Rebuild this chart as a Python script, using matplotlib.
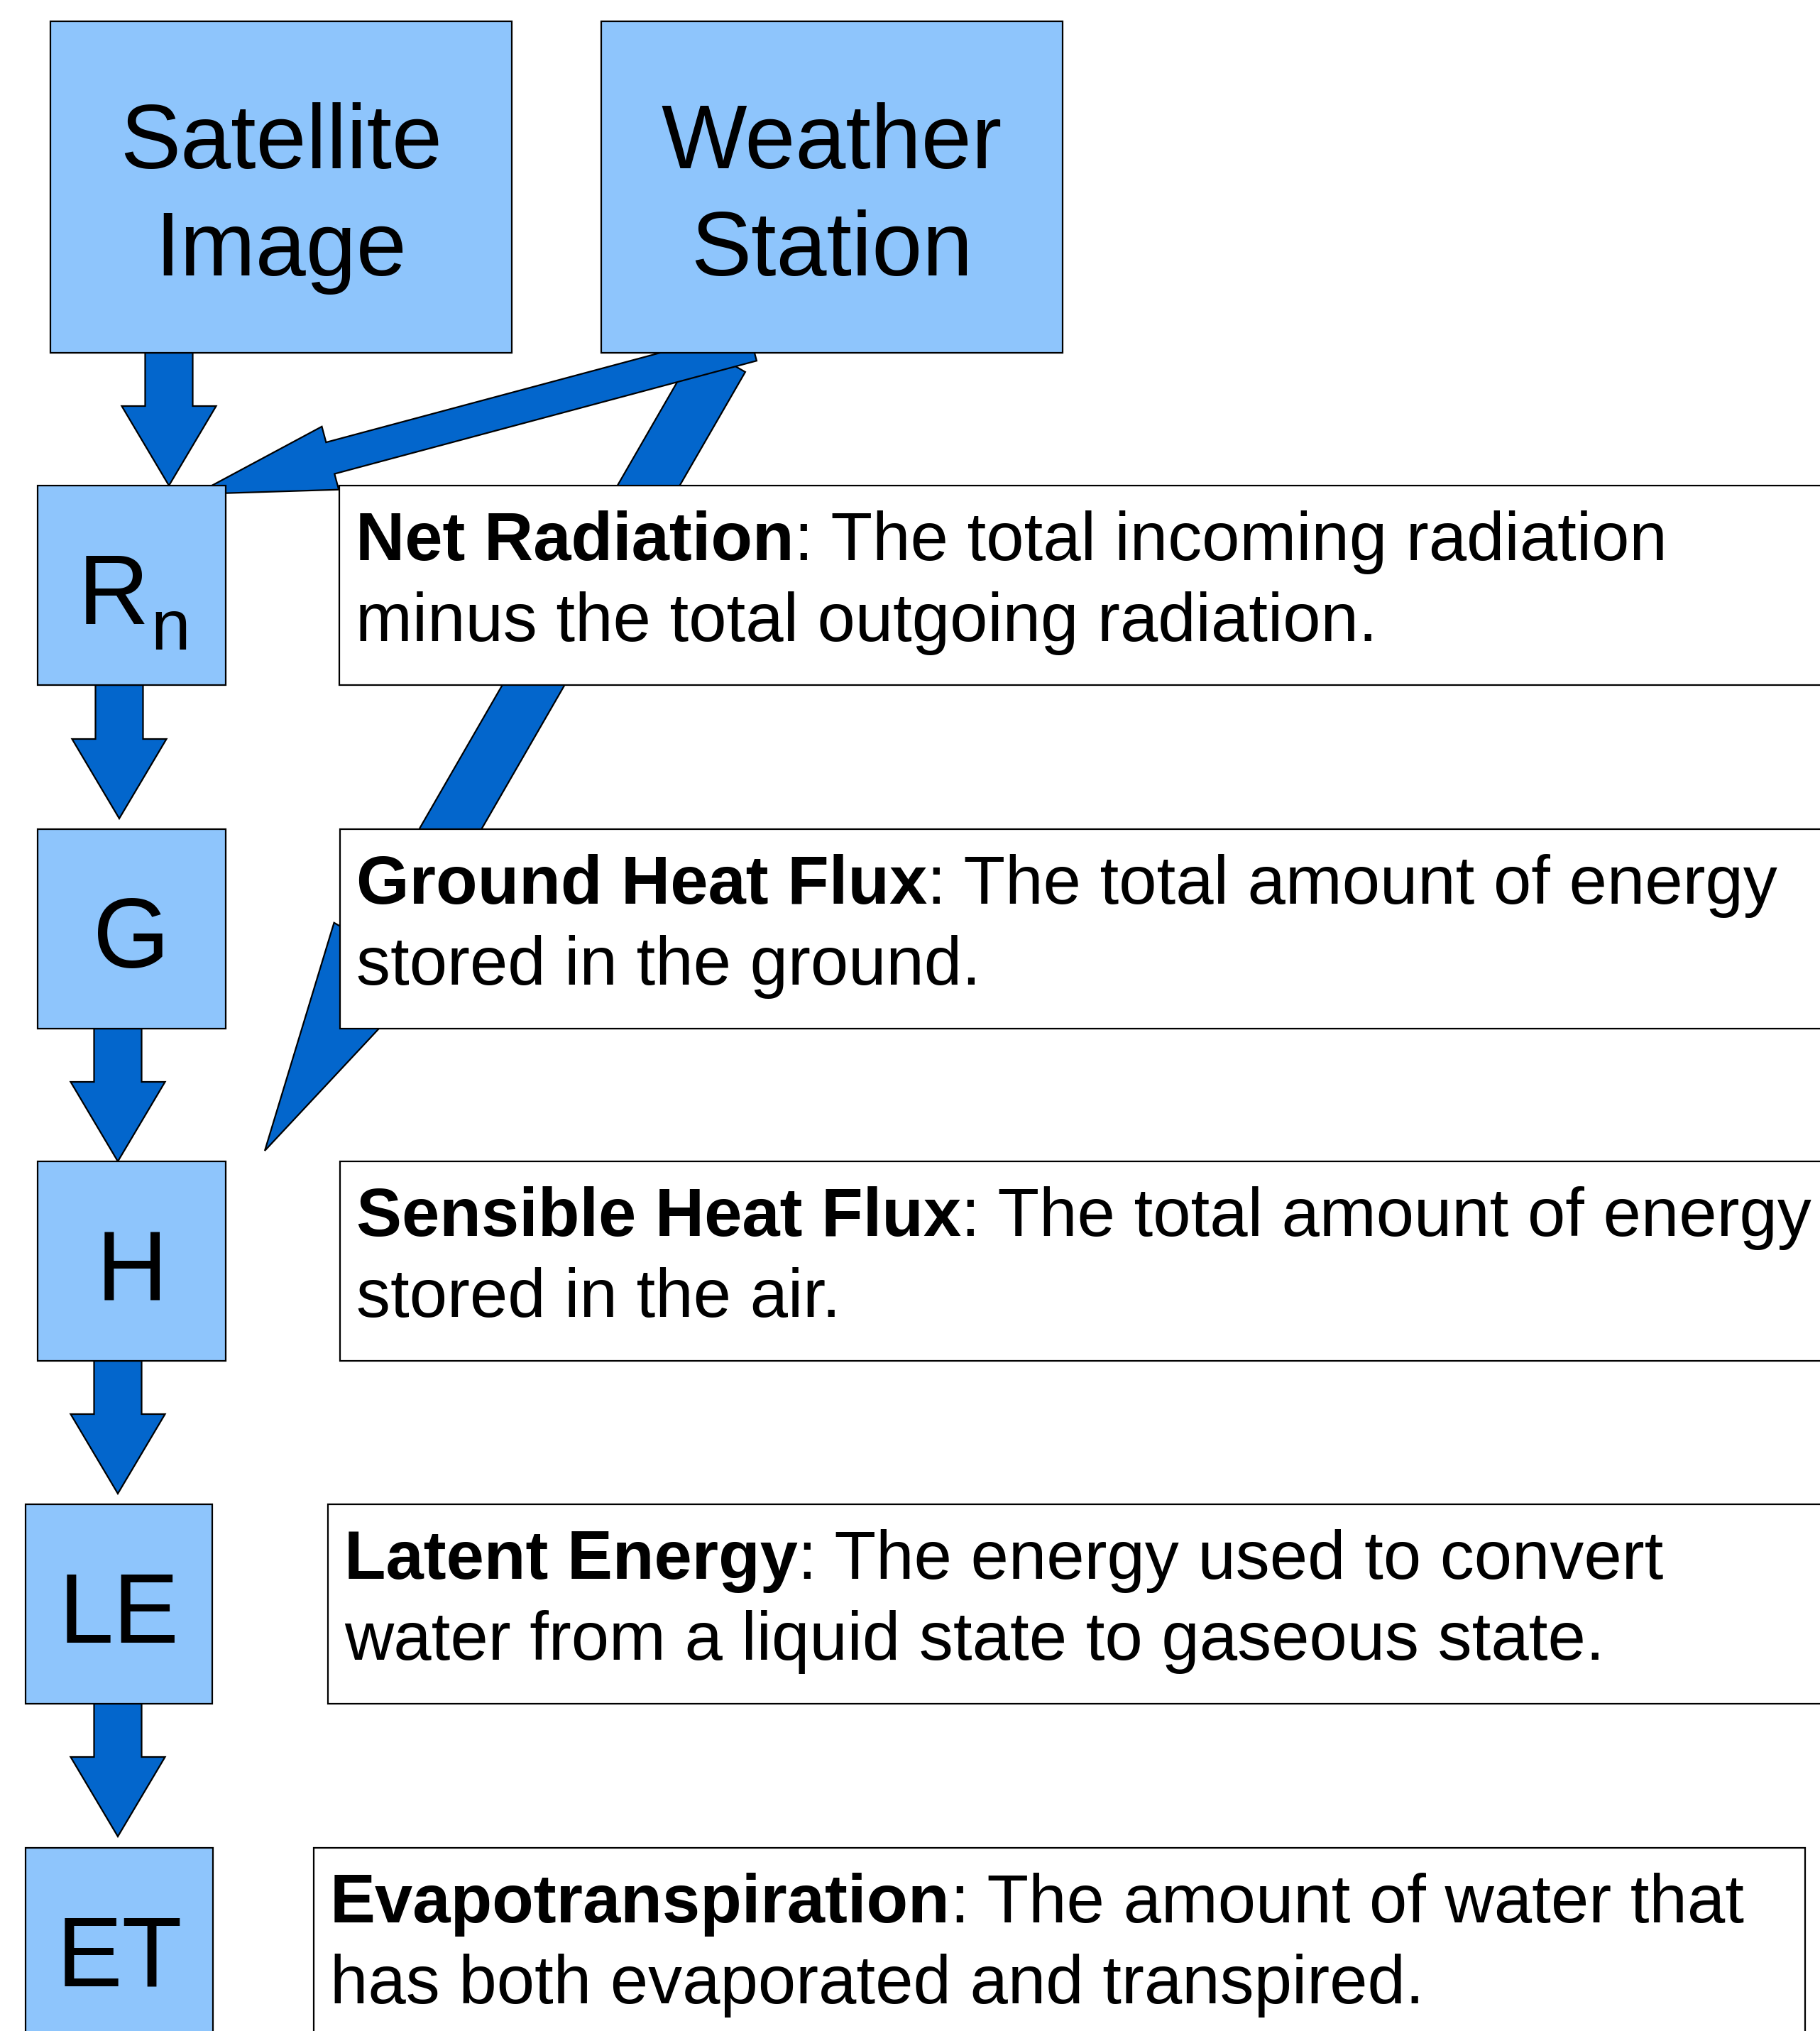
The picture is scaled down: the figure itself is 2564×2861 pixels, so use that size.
import matplotlib

matplotlib.use('Agg')
import matplotlib.pyplot as plt
from matplotlib.patches import Rectangle

# diagram content
source_lines = [["Satellite", "Image"], ["Weather", "Station"]]
term_symbols = ["R", "G", "H", "LE", "ET"]
term_subscripts = ["n", "", "", "", ""]
term_names = ["Net Radiation", "Ground Heat Flux", "Sensible Heat Flux",
              "Latent Energy", "Evapotranspiration"]
term_defs_first = [": The total incoming radiation",
                   ": The total amount of energy",
                   ": The total amount of energy",
                   ": The energy used to convert",
                   ": The amount of water that"]
term_defs_second = ["minus the total outgoing radiation.",
                    "stored in the ground.",
                    "stored in the air.",
                    "water from a liquid state to gaseous state.",
                    "has both evaporated and transpired."]

W, H = 2564, 2861
LIGHT = '#8ec5fc'
DARK = '#0366cc'
FONT = 'Liberation Sans'

# layout (pixels, y measured downward)
source_x = [(71, 721), (847, 1497)]
source_y = (30, 497)
term_x = [(53, 318), (53, 318), (53, 318), (36, 299), (36, 300)]
term_y = [(684, 965), (1168, 1449), (1636, 1917), (2119, 2400), (2603, 2920)]
desc_x = [(478, 2620), (479, 2620), (479, 2620), (462, 2620), (442, 2543)]

dpi = 100
fig = plt.figure(figsize=(W / dpi, H / dpi), dpi=dpi)
ax = fig.add_axes([0, 0, 1, 1])
ax.set_xlim(0, W)
ax.set_ylim(H, 0)
ax.axis('off')


def block_arrow(x0, y0, x1, y1, width, head_width, head_length, z):
    ax.arrow(x0, y0, x1 - x0, y1 - y0, width=width, head_width=head_width,
             head_length=head_length, length_includes_head=True,
             fc=DARK, ec='black', lw=1.6, zorder=z, joinstyle='miter')


# weather station -> H (behind everything)
block_arrow(1017, 505, 373, 1621, 76, 152, 327, 1)
# weather station -> Rn
block_arrow(1060, 486, 276, 696, 46, 92, 196, 2)

# vertical arrows
vert = [(238, 497, 684), (168, 965, 1153), (166, 1449, 1636),
        (166, 1917, 2104), (166, 2400, 2587)]
for cx, y0, y1 in vert:
    block_arrow(cx, y0, cx, y1, 67, 133, 112, 2)

# source boxes
for (x0, x1), lines in zip(source_x, source_lines):
    ax.add_patch(Rectangle((x0, source_y[0]), x1 - x0, source_y[1] - source_y[0],
                           fc=LIGHT, ec='black', lw=1.6, zorder=3))
    for base, line in zip([237, 388], lines):
        ax.text((x0 + x1) / 2, base, line, ha='center', va='baseline',
                fontsize=92, family=FONT, zorder=4)

# term boxes and descriptions
for i in range(len(term_symbols)):
    (x0, x1), (y0, y1) = term_x[i], term_y[i]
    ax.add_patch(Rectangle((x0, y0), x1 - x0, y1 - y0,
                           fc=LIGHT, ec='black', lw=1.6, zorder=3))
    if term_subscripts[i]:
        ax.text(110, y0 + 195, term_symbols[i], ha='left', va='baseline',
                fontsize=100, family=FONT, zorder=4)
        ax.text(212, y0 + 231, term_subscripts[i], ha='left', va='baseline',
                fontsize=72, family=FONT, zorder=4)
    else:
        ax.text((x0 + x1) / 2, y0 + 195, term_symbols[i], ha='center',
                va='baseline', fontsize=100, family=FONT, zorder=4)

    dx0, dx1 = desc_x[i]
    ax.add_patch(Rectangle((dx0, y0), dx1 - dx0, y1 - y0,
                           fc='white', ec='black', lw=1.6, zorder=3))
    bold = ax.text(dx0 + 23, y0 + 105, term_names[i], ha='left', va='baseline',
                   fontsize=69, fontweight='bold', family=FONT, zorder=4)
    ax.annotate(term_defs_first[i], xy=(1, 0), xycoords=bold, ha='left',
                va='bottom', fontsize=69, family=FONT, zorder=4)
    ax.text(dx0 + 23, y0 + 219, term_defs_second[i], ha='left', va='baseline',
            fontsize=69, family=FONT, zorder=4)

fig.savefig('out.png', dpi=dpi, facecolor='white')
plt.close(fig)
